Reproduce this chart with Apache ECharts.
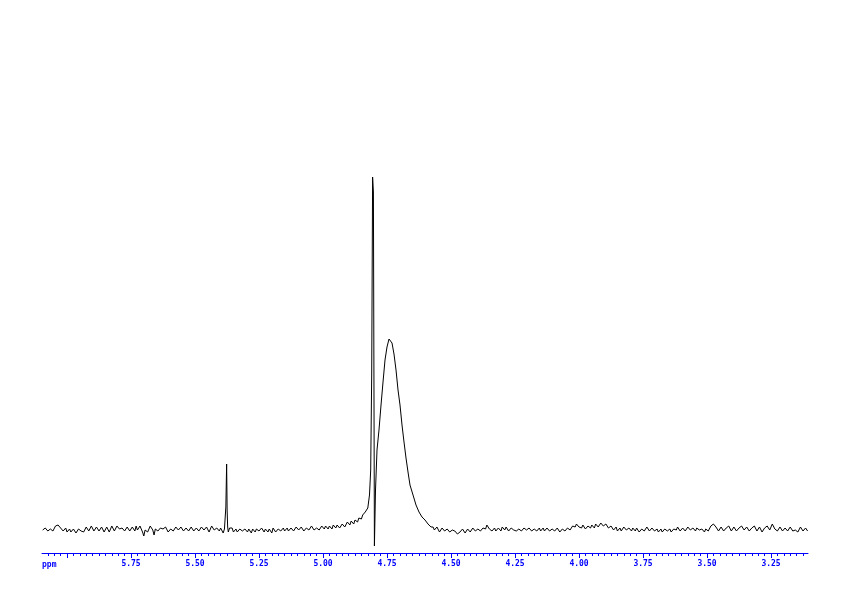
<!DOCTYPE html>
<html><head><meta charset="utf-8">
<script src="https://cdn.jsdelivr.net/npm/echarts@6/dist/echarts.min.js"></script>
<style>html,body{margin:0;padding:0;background:#fff}#c{width:842px;height:596px}</style>
</head><body><div id="c"></div>
<script>
// Spectrum segments: [ppm, intensity]
const baselineLeft = [[6.095,0],[6.09,-1],[6.085,2],[6.08,1],[6.075,-1],[6.07,-2],[6.065,1],[6.06,2],[6.055,-1],[6.05,1],
[6.045,4],[6.04,3],[6.035,5],[6.03,6],[6.025,2],[6.02,3],[6.015,-1],[6.01,0],[6.005,2],[6.00,-2],
[5.995,0],[5.99,1],[5.985,-2],[5.98,-4],[5.975,1],[5.97,0],[5.965,-3],[5.96,-2],[5.955,1],[5.95,2],
[5.945,-1],[5.94,1],[5.935,-2],[5.93,-3],[5.925,3],[5.92,2],[5.915,-1],[5.91,1],[5.905,4],[5.90,3],
[5.895,-1],[5.89,0],[5.885,3],[5.88,1],[5.875,-1],[5.87,-2],[5.865,3],[5.86,2],[5.855,-2],[5.85,0],
[5.845,3],[5.84,2],[5.835,-2],[5.83,-1],[5.825,4],[5.82,3],[5.815,-1],[5.81,1],[5.805,4],[5.80,2],
[5.795,1],[5.79,-1],[5.785,2],[5.78,3],[5.775,-1],[5.77,0],[5.765,3],[5.76,2],[5.755,-1],[5.75,-2],
[5.745,3],[5.74,1],[5.735,-1],[5.73,4],[5.725,0],[5.72,1],[5.715,4],[5.71,3],[5.705,-2],[5.70,-6],
[5.695,0],[5.69,2],[5.685,-2],[5.68,0],[5.675,4],[5.67,3],[5.665,0],[5.66,-5],[5.655,1],[5.65,2],
[5.645,-1],[5.64,1],[5.635,2],[5.63,4],[5.625,1],[5.62,-1],[5.615,3],[5.61,2],[5.605,-2],[5.60,-4],
[5.595,1],[5.59,3],[5.585,-1],[5.58,1],[5.575,3],[5.57,4],[5.565,0],[5.56,-1],[5.555,3],[5.55,2],
[5.545,-1],[5.54,-3],[5.535,2],[5.53,3],[5.525,-1],[5.52,0],[5.515,3],[5.51,2],[5.505,-1],[5.50,-2],
[5.495,2],[5.49,3],[5.485,-1],[5.48,1],[5.475,3],[5.47,4],[5.465,0],[5.46,-1],[5.455,3],[5.45,2],
[5.445,-2],[5.44,0],[5.435,4],[5.43,3],[5.425,0],[5.42,-2],[5.415,2],[5.41,1],[5.405,-1],[5.40,2],
[5.395,0],[5.39,-3],[5.385,1]];
const peakSmall = [[5.3805,3],[5.3795,23],[5.3765,66],[5.3745,20],[5.3725,3],[5.37,-2]];
const baselineMid = [[5.365,2],[5.36,0],[5.355,2],[5.35,-2],[5.345,-1],[5.34,1],[5.335,-2],[5.33,-1],[5.325,1],[5.32,2],
[5.315,-1],[5.31,-2],[5.305,1],[5.30,0],[5.295,-2],[5.29,1],[5.285,0],[5.28,-3],[5.275,1],[5.27,0],
[5.265,-2],[5.26,1],[5.255,2],[5.25,-1],[5.245,-2],[5.24,2],[5.235,0],[5.23,-2],[5.225,1],[5.22,0],
[5.215,-2],[5.21,1],[5.205,0],[5.20,-3],[5.195,2],[5.19,1],[5.185,-2],[5.18,-1],[5.175,1],[5.17,2],
[5.165,-1],[5.16,0],[5.155,2],[5.15,-1],[5.145,0],[5.14,2],[5.135,-1],[5.13,-2],[5.125,2],[5.12,1],
[5.115,-1],[5.11,0],[5.105,3],[5.10,2],[5.095,0],[5.09,-1],[5.085,3],[5.08,2],[5.075,-1],[5.07,0],
[5.065,2],[5.06,3],[5.055,0],[5.05,1],[5.045,4],[5.04,2],[5.035,0],[5.03,-1],[5.025,2],[5.02,3],
[5.015,0],[5.01,1],[5.005,4],[5.00,2],[4.995,1],[4.99,4],[4.985,2],[4.98,1],[4.975,4],[4.97,3],
[4.965,1],[4.96,5],[4.955,3],[4.95,2],[4.945,5],[4.94,4],[4.935,2],[4.93,3],[4.925,6],[4.92,6],
[4.915,3],[4.91,4],[4.905,8],[4.90,7],[4.895,5],[4.89,9],[4.885,7],[4.88,6],[4.875,10],[4.87,10],
[4.865,8],[4.86,12],[4.855,13],[4.85,11],[4.845,15],[4.84,14],[4.835,18],[4.83,17],[4.825,22]];
const peakMain = [[4.8184,35],[4.8137,60],[4.8098,155],[4.8063,353],[4.8031,338],[4.7992,-16],
[4.7949,40],[4.7891,80],[4.7813,100],[4.7734,125],[4.7656,148],[4.7578,170],[4.75,183],[4.7422,191],
[4.7363,192],[4.7305,187],[4.7227,176],[4.7148,160],[4.707,140],[4.6992,125],[4.6914,105],[4.6836,88],
[4.6758,72],[4.668,58],[4.6602,45],[4.6484,35],[4.6367,25],[4.625,18],[4.6133,13],[4.6016,10],
[4.5898,6],[4.5781,3]];
const baselineRight = [[4.575,5],[4.57,3],[4.565,0],[4.56,1],[4.555,3],[4.55,2],[4.545,-2],[4.54,-1],[4.535,2],[4.53,1],
[4.525,-1],[4.52,-2],[4.515,1],[4.51,0],[4.505,-2],[4.50,-3],[4.495,0],[4.49,1],[4.485,-1],[4.48,-2],
[4.475,-4],[4.47,-5],[4.465,-2],[4.46,-3],[4.455,1],[4.45,0],[4.445,-3],[4.44,-2],[4.435,1],[4.43,2],
[4.425,-2],[4.42,-1],[4.415,2],[4.41,1],[4.405,-1],[4.40,-2],[4.395,1],[4.39,2],[4.385,-1],[4.38,0],
[4.375,2],[4.37,3],[4.365,1],[4.36,5],[4.355,3],[4.35,1],[4.345,2],[4.34,-1],[4.335,0],[4.33,2],
[4.325,-1],[4.32,-2],[4.315,2],[4.31,1],[4.305,-1],[4.30,3],[4.295,1],[4.29,0],[4.285,3],[4.28,2],
[4.275,-1],[4.27,-1],[4.265,2],[4.26,3],[4.255,0],[4.25,1],[4.245,-1],[4.24,-2],[4.235,1],[4.23,2],
[4.225,-1],[4.22,0],[4.215,2],[4.21,3],[4.205,0],[4.20,-1],[4.195,2],[4.19,1],[4.185,-1],[4.18,-2],
[4.175,1],[4.17,2],[4.165,-1],[4.16,0],[4.155,2],[4.15,-1],[4.145,0],[4.14,2],[4.135,-1],[4.13,0],
[4.125,2],[4.12,1],[4.115,-1],[4.11,-2],[4.105,1],[4.10,2],[4.095,-1],[4.09,0],[4.085,2],[4.08,1],
[4.075,-2],[4.07,-1],[4.065,1],[4.06,2],[4.055,-1],[4.05,0],[4.045,2],[4.04,3],[4.035,0],[4.03,1],
[4.025,4],[4.02,2],[4.015,3],[4.01,6],[4.005,8],[4.00,3],[3.995,1],[3.99,2],[3.985,5],[3.98,4],
[3.975,1],[3.97,1],[3.965,4],[3.96,3],[3.955,2],[3.95,5],[3.945,3],[3.94,2],[3.935,6],[3.93,6],
[3.925,3],[3.92,4],[3.915,7],[3.91,7],[3.905,4],[3.90,3],[3.895,6],[3.89,5],[3.885,2],[3.88,1],
[3.875,4],[3.87,3],[3.865,0],[3.86,2],[3.855,3],[3.85,-1],[3.845,0],[3.84,2],[3.835,-1],[3.83,0],
[3.825,3],[3.82,3],[3.815,0],[3.81,-2],[3.805,2],[3.80,1],[3.795,-1],[3.79,2],[3.785,1],[3.78,-1],
[3.775,2],[3.77,1],[3.765,-2],[3.76,-3],[3.755,1],[3.75,1],[3.745,-1],[3.74,0],[3.735,3],[3.73,2],
[3.725,-1],[3.72,-2],[3.715,2],[3.71,1],[3.705,-1],[3.70,0],[3.695,1],[3.69,-2],[3.685,0],[3.68,1],
[3.675,-2],[3.67,-1],[3.665,1],[3.66,2],[3.655,-1],[3.65,0],[3.645,1],[3.64,-2],[3.635,0],[3.63,1],
[3.625,-1],[3.62,0],[3.615,3],[3.61,2],[3.605,-1],[3.60,-1],[3.595,2],[3.59,1],[3.585,-1],[3.58,0],
[3.575,3],[3.57,2],[3.565,0],[3.56,-1],[3.555,2],[3.55,1],[3.545,-1],[3.54,2],[3.535,1],[3.53,0],
[3.525,2],[3.52,1],[3.515,-1],[3.51,-2],[3.505,1],[3.50,2],[3.495,-1],[3.49,1],[3.485,4],[3.48,3],
[3.475,6],[3.47,5],[3.465,3],[3.46,2],[3.455,-1],[3.45,0],[3.445,3],[3.44,2],[3.435,-1],[3.43,-1],
[3.425,2],[3.42,1],[3.415,4],[3.41,3],[3.405,-1],[3.40,0],[3.395,3],[3.39,2],[3.385,-1],[3.38,-1],
[3.375,2],[3.37,1],[3.365,4],[3.36,3],[3.355,0],[3.35,0],[3.345,3],[3.34,2],[3.335,-1],[3.33,-2],
[3.325,2],[3.32,1],[3.315,4],[3.31,3],[3.305,-1],[3.30,0],[3.295,3],[3.29,2],[3.285,-2],[3.28,-1],
[3.275,2],[3.27,1],[3.265,4],[3.26,3],[3.255,0],[3.25,2],[3.245,6],[3.24,5],[3.235,1],[3.23,2],
[3.225,-1],[3.22,0],[3.215,3],[3.21,1],[3.205,-1],[3.20,-2],[3.195,2],[3.19,1],[3.185,-1],[3.18,0],
[3.175,3],[3.17,2],[3.165,-1],[3.16,-3],[3.155,0],[3.15,1],[3.145,-2],[3.14,0],[3.135,3],[3.13,2],
[3.125,-1],[3.12,-2],[3.115,2],[3.11,1],[3.107,-1]];

const majorTicks = [6.00,5.75,5.50,5.25,5.00,4.75,4.50,4.25,4.00,3.75,3.50,3.25];
const labelTicks = [5.75,5.50,5.25,5.00,4.75,4.50,4.25,4.00,3.75,3.50,3.25];
const axisName = 'ppm';
const X_MAX = 6.0977, X_MIN = 3.1055;

const minorTicks = [];
for (let i = 125; i <= 243; i++) minorTicks.push(+(i * 0.025).toFixed(3));

const spectrum = [].concat(baselineLeft, peakSmall, baselineMid, peakMain, baselineRight);
const BLUE = '#0000ff';
const chart = echarts.init(document.getElementById('c'), null, {renderer: 'canvas'});
chart.setOption({
  animation: false,
  backgroundColor: '#ffffff',
  grid: {left: 42, right: 34, top: 100, bottom: 43},
  xAxis: [{
    type: 'value', min: X_MIN, max: X_MAX, inverse: true, position: 'bottom',
    axisLine: {onZero: false, lineStyle: {color: BLUE, width: 1}},
    axisTick: {customValues: majorTicks, length: 5, lineStyle: {color: BLUE, width: 1}},
    axisLabel: {customValues: labelTicks, formatter: v => v.toFixed(2), color: BLUE,
      fontFamily: 'DejaVu Sans Mono', fontSize: 8, fontWeight: 'bold', margin: 7},
    splitLine: {show: false}
  }, {
    type: 'value', min: X_MIN, max: X_MAX, inverse: true, position: 'bottom', gridIndex: 0,
    axisLine: {show: false, onZero: false},
    axisTick: {customValues: minorTicks, length: 3, lineStyle: {color: BLUE, width: 1}},
    axisLabel: {show: false},
    splitLine: {show: false}
  }],
  yAxis: {type: 'value', min: -23, max: 430, show: false},
  series: [{
    type: 'line', xAxisIndex: 0, data: spectrum, symbol: 'none', showSymbol: false,
    lineStyle: {color: '#000000', width: 1}
  }],
  graphic: [{
    type: 'text', left: 42, top: 561,
    style: {text: axisName, fill: BLUE, font: 'bold 8px "DejaVu Sans Mono"'}
  }]
});
</script></body></html>
